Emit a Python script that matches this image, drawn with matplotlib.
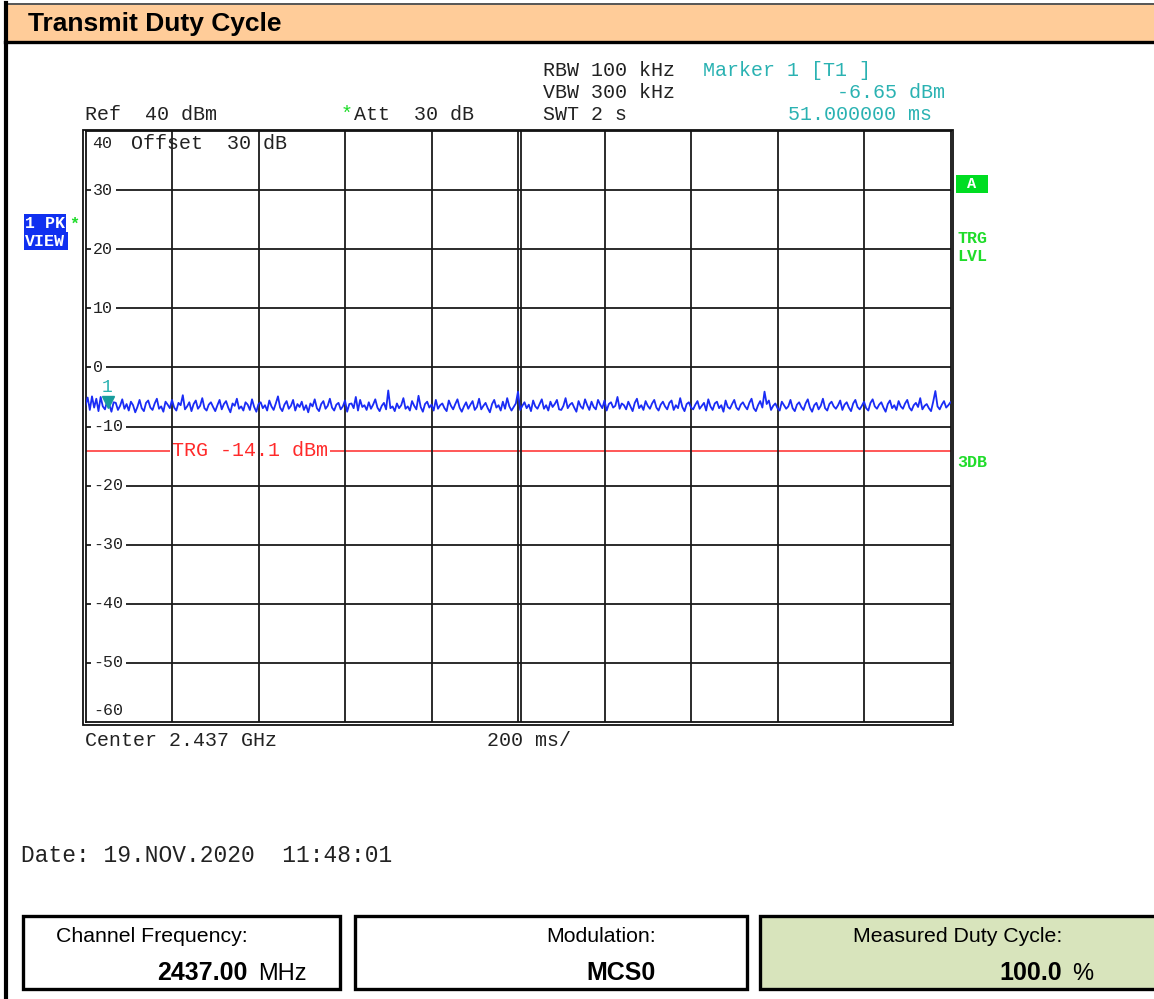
import numpy as np
import matplotlib
matplotlib.use('Agg')
import matplotlib.pyplot as plt
import matplotlib.transforms as mtransforms
from matplotlib.patches import Rectangle
from matplotlib.lines import Line2D

# trace (dBm), one sample every 5 ms over the 2 s sweep
trace_dbm = [
    -6.4, -5.1, -7.2, -4.9, -6.8, -5.3, -7.4, -5.0, -6.6, -7.1,
    -5.7, -6.3, -7.5, -5.9, -6.0, -7.2, -6.5, -5.4, -7.0, -6.2,
    -7.3, -5.8, -6.4, -7.6, -6.7, -5.5, -6.9, -7.4, -6.0, -5.6,
    -6.8, -7.2, -6.1, -5.3, -7.0, -6.6, -7.5, -5.8, -6.3, -6.9,
    -5.5, -6.8, -7.3, -6.0, -6.4, -4.7, -7.1, -6.6, -5.9, -7.4,
    -6.2, -5.6, -7.0, -6.5, -5.2, -6.9, -7.3, -6.3, -5.9, -6.7,
    -7.4, -6.4, -5.5, -7.1, -6.2, -5.7, -6.8, -7.6, -6.1, -6.5,
    -5.3, -7.0, -6.6, -7.3, -5.9, -6.3, -7.2, -5.4, -6.7, -7.5,
    -6.2, -5.9, -6.9, -6.4, -7.3, -5.6, -6.6, -7.2, -6.1, -4.9,
    -6.8, -7.4, -6.3, -5.7, -7.0, -6.5, -5.5, -7.3, -6.2, -6.7,
    -5.8, -7.2, -6.4, -7.6, -6.1, -6.6, -5.4, -6.9, -7.4, -6.2,
    -5.7, -7.0, -6.5, -5.3, -6.8, -7.3, -6.3, -6.0, -7.1, -6.6,
    -5.6, -7.5, -6.2, -6.1, -6.9, -5.0, -7.3, -5.5, -6.7, -6.4,
    -7.2, -5.9, -7.0, -6.3, -5.4, -6.8, -7.4, -6.5, -6.0, -7.1,
    -3.9, -6.9, -6.6, -7.4, -6.1, -6.9, -6.4, -5.2, -7.0, -6.6,
    -7.3, -5.7, -6.5, -7.1, -4.8, -6.7, -7.5, -6.2, -5.8, -6.8,
    -6.3, -7.3, -5.5, -7.0, -6.4, -6.1, -6.9, -7.4, -5.6, -6.5,
    -7.1, -6.2, -5.4, -6.8, -7.5, -6.6, -5.9, -7.0, -6.3, -5.7,
    -7.2, -6.7, -5.3, -7.1, -6.5, -6.0, -6.9, -7.6, -6.2, -5.5,
    -6.8, -6.4, -7.3, -5.8, -7.0, -5.2, -6.6, -7.3, -6.7, -6.1,
    -4.1, -7.2, -6.5, -5.9, -6.9, -6.3, -7.4, -5.6, -6.6, -7.0,
    -6.2, -5.4, -7.0, -6.4, -7.3, -5.8, -6.7, -6.2, -5.5, -7.1,
    -7.2, -6.5, -5.2, -6.9, -6.3, -6.0, -6.8, -7.5, -5.7, -6.6,
    -7.0, -5.4, -6.4, -7.2, -5.8, -6.7, -7.1, -5.5, -6.3, -6.9,
    -5.6, -7.3, -6.2, -5.9, -6.8, -6.5, -5.0, -7.0, -6.1, -6.4,
    -7.1, -5.8, -6.6, -7.4, -6.0, -5.3, -6.9, -6.4, -7.2, -5.7,
    -6.5, -7.0, -6.1, -5.5, -6.8, -7.3, -6.3, -5.8, -6.6, -7.1,
    -6.0, -5.6, -7.2, -6.4, -6.9, -5.2, -6.7, -7.4, -6.2, -5.9,
    -6.8, -7.1, -6.3, -5.7, -7.0, -6.5, -6.0, -7.3, -5.4, -6.6,
    -7.2, -6.1, -5.8, -6.9, -6.4, -7.5, -5.6, -6.7, -7.0, -6.2,
    -5.5, -6.8, -7.2, -6.3, -5.9, -6.6, -7.1, -6.0, -5.3, -6.9,
    -7.4, -6.4, -5.7, -6.8, -4.1, -6.2, -5.6, -7.2, -6.5, -6.1,
    -6.9, -7.3, -5.8, -6.4, -7.0, -6.6, -5.5, -6.9, -7.4, -6.3,
    -5.9, -6.7, -7.2, -6.1, -5.4, -6.8, -7.5, -6.4, -6.0, -7.1,
    -6.5, -5.3, -6.9, -7.3, -6.2, -5.8, -6.6, -7.0, -6.4, -5.6,
    -7.2, -6.3, -5.9, -6.8, -7.4, -6.1, -5.5, -6.7, -7.1, -6.5,
    -5.8, -6.9, -7.3, -6.0, -5.4, -6.6, -7.0, -6.3, -5.9, -6.8,
    -7.5, -6.2, -5.6, -6.9, -6.4, -7.2, -5.7, -6.6, -7.0, -6.1,
    -5.5, -6.8, -7.3, -6.4, -6.0, -6.7, -5.2, -7.1, -6.5, -6.2,
    -6.9, -7.4, -5.8, -4.0, -6.6, -7.1, -6.3, -5.7, -6.8, -6.4,
    -5.9,
]
sweep_ms = 2000
y_top, y_bottom = 40, -60
y_ticks = [40, 30, 20, 10, 0, -10, -20, -30, -40, -50, -60]
x_ticks = [0, 200, 400, 600, 800, 1000, 1200, 1400, 1600, 1800, 2000]
marker_ms = 51.0
marker_dbm = -6.65
trg_dbm = -14.1

box_titles = ['Channel Frequency:', 'Modulation:', 'Measured Duty Cycle:']
box_values = ['2437.00', 'MCS0', '100.0']
box_units = ['MHz', '', '%']

MONO = 'Liberation Mono'
SANS = 'Liberation Sans'
CYAN = '#2ab2b2'
GREEN = '#1fdc2a'
RED = '#ff2a2a'
INK = '#222222'

W, H = 1154, 999
fig = plt.figure(figsize=(W / 100, H / 100), dpi=100)
fig.patch.set_facecolor('white')
# pixel coordinates, origin top-left
PX = mtransforms.Affine2D().scale(1 / W, -1 / H).translate(0, 1) + fig.transFigure


def txt(x, y, s, **kw):
    kw.setdefault('va', 'baseline')
    return fig.text(x, y, s, transform=PX, **kw)


def line(xs, ys, **kw):
    fig.add_artist(Line2D(xs, ys, transform=PX, **kw))


def rect(x, y, w, h, **kw):
    fig.add_artist(Rectangle((x, y), w, h, transform=PX, **kw))


# title bar
rect(5, 4, W - 5, 38, facecolor='#ffcc99', edgecolor='none')
line([5, W], [4, 4], color='#555555', lw=1.4)
line([5, W], [42, 42], color='black', lw=2.4)
line([5.5, 5.5], [3, H], color='black', lw=3.0)
txt(28, 31.5, 'Transmit Duty Cycle', fontsize=19, weight='bold', family=SANS)

# plot area
ax = fig.add_axes([85.5 / W, 1 - 722 / H, 865 / W, 591 / H])
ax.set_xlim(0, sweep_ms)
ax.set_ylim(y_bottom, y_top)
ax.set_xticks([])
ax.set_yticks([])
for s in ax.spines.values():
    s.set_linewidth(1.3)
    s.set_color('#111111')

for xv in x_ticks[1:-1]:
    ax.axvline(xv, color='#1a1a1a', lw=1.3, zorder=2)
mid = mtransforms.offset_copy(ax.transData, fig=fig, x=2.5, y=0, units='dots')
ax.plot([x_ticks[5], x_ticks[5]], [y_bottom, y_top], color='#1a1a1a', lw=1.3,
        transform=mid, zorder=2)
for yv in y_ticks[1:-1]:
    ax.axhline(yv, color='#1a1a1a', lw=1.3, zorder=2)

# outer frame line
rect(82.5, 130, 870, 595, facecolor='none', edgecolor='#111111', lw=1.3)

tl = mtransforms.blended_transform_factory(PX, ax.transData)
for yv in y_ticks:
    if yv == y_top:
        tr = mtransforms.offset_copy(tl, fig=fig, y=-12, units='dots')
        ax.text(92, yv, str(yv), transform=tr, fontsize=12, family=MONO,
                va='center', color=INK, zorder=5)
    elif yv == y_bottom:
        tr = mtransforms.offset_copy(tl, fig=fig, y=12, units='dots')
        ax.text(93, yv, str(yv), transform=tr, fontsize=12, family=MONO,
                va='center', color=INK, zorder=5)
    else:
        ax.text(93, yv, str(yv), transform=tl, fontsize=12, family=MONO,
                va='center', color=INK, zorder=5,
                bbox=dict(boxstyle='square,pad=0.15', fc='white', ec='none'))

off40 = mtransforms.offset_copy(tl, fig=fig, y=-12, units='dots')
ax.text(131, y_top, 'Offset  30 dB', transform=off40, fontsize=14.4,
        family=MONO, va='center', color=INK, zorder=5)

# trigger level
ax.axhline(trg_dbm, color=RED, lw=1.1, zorder=1)
ax.text(172, trg_dbm, 'TRG -14.1 dBm', transform=tl, fontsize=14.4,
        family=MONO, va='center', color=RED, zorder=1.5,
        bbox=dict(boxstyle='square,pad=0.1', fc='white', ec='none'))

# trace
t = np.arange(len(trace_dbm)) * sweep_ms / (len(trace_dbm) - 1)
ax.plot(t, trace_dbm, color='#1a2cf5', lw=1.3, zorder=4)

# marker 1
mk = mtransforms.offset_copy(ax.transData, fig=fig, y=4.5, units='dots')
ax.plot([marker_ms], [marker_dbm], marker='v', ms=9, color='#179c9c',
        mec='#179c9c', transform=mk, zorder=6)
mk_lbl = mtransforms.offset_copy(ax.transData, fig=fig, y=19, units='dots')
ax.text(marker_ms, marker_dbm, '1', transform=mk_lbl, fontsize=13,
        family=MONO, color=CYAN, ha='center', va='center', zorder=6)

# header text
txt(543, 75.5, 'RBW 100 kHz', fontsize=14.4, family=MONO, color=INK)
txt(543, 97.5, 'VBW 300 kHz', fontsize=14.4, family=MONO, color=INK)
txt(543, 119.5, 'SWT 2 s', fontsize=14.4, family=MONO, color=INK)
txt(703, 75.5, 'Marker 1 [T1 ]', fontsize=14.4, family=MONO, color=CYAN)
txt(945, 97.5, '-6.65 dBm', fontsize=14.4, family=MONO, color=CYAN, ha='right')
txt(932, 119.5, '51.000000 ms', fontsize=14.4, family=MONO, color=CYAN,
    ha='right')
txt(85, 119.5, 'Ref  40 dBm', fontsize=14.4, family=MONO, color=INK)
txt(341, 119.5, '*', fontsize=14.4, family=MONO, color=GREEN)
txt(354, 119.5, 'Att  30 dB', fontsize=14.4, family=MONO, color=INK)

# left trace info
rect(24, 214, 42, 18, facecolor='#1030f0', edgecolor='none')
rect(24, 232, 44, 18, facecolor='#1030f0', edgecolor='none')
txt(25, 228.5, '1 PK', fontsize=12, family=MONO, weight='bold', color='white')
txt(25, 246.5, 'VIEW', fontsize=12, family=MONO, weight='bold', color='white')
txt(69, 229, '*', fontsize=12, family=MONO, weight='bold', color=GREEN)

# right side labels
rect(956, 175, 32, 18, facecolor='#00dd22', edgecolor='none')
txt(972, 184, 'A', fontsize=11, family=MONO, weight='bold', color='white',
    ha='center', va='center')
txt(957, 243, 'TRG', fontsize=12, family=MONO, weight='bold', color=GREEN)
txt(957, 261, 'LVL', fontsize=12, family=MONO, weight='bold', color=GREEN)
txt(957, 467, '3DB', fontsize=12, family=MONO, weight='bold', color=GREEN)

# bottom of screen
txt(85, 745.5, 'Center 2.437 GHz', fontsize=14.4, family=MONO, color=INK)
txt(487, 745.5, '200 ms/', fontsize=14.4, family=MONO, color=INK)
txt(21, 862, 'Date: 19.NOV.2020  11:48:01', fontsize=16.5, family=MONO,
    color=INK)

# summary boxes
boxes = [(23, 340, 'white'), (355, 747, 'white'), (760, W + 5, '#d8e4bc')]
right_edges = [248, 656, 1062]
for (x0, x1, fc), xr, ttl, val, unit in zip(boxes, right_edges, box_titles,
                                             box_values, box_units):
    rect(x0, 916, x1 - x0, 73, facecolor=fc, edgecolor='black', lw=2.4)
    txt(xr, 942, ttl, fontsize=15.3, family=SANS, ha='right')
    txt(xr, 980, val, fontsize=18, family=SANS, weight='bold', ha='right')
    if unit:
        txt(xr + 10, 980, unit, fontsize=17, family=SANS, ha='left')

fig.savefig('out.png', dpi=100)
